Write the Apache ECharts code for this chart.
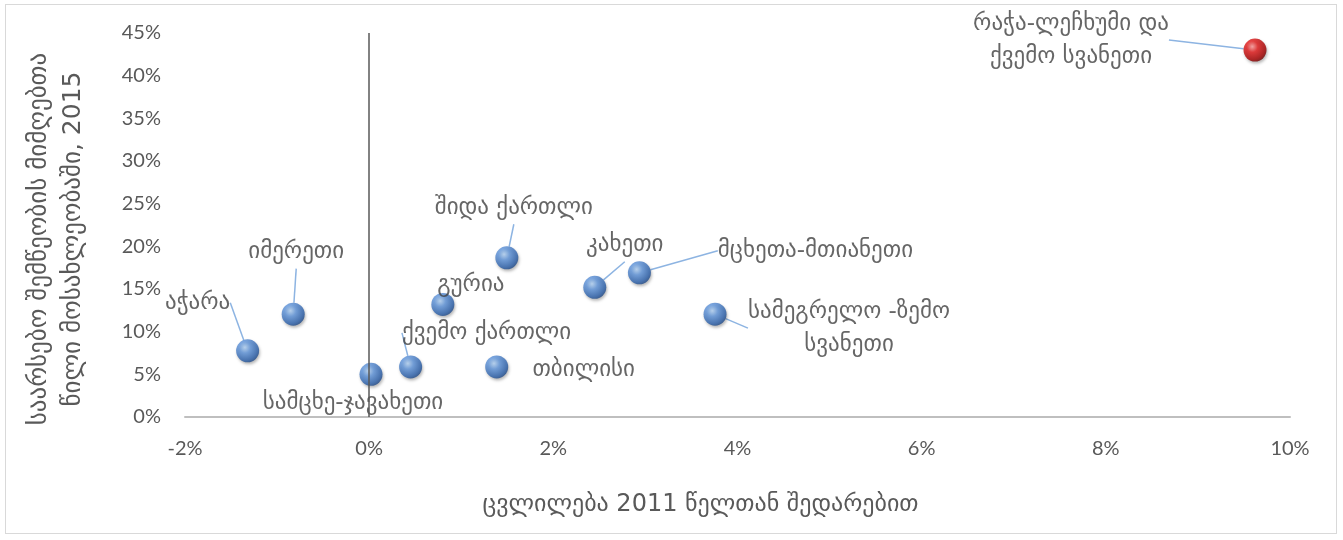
<!DOCTYPE html>
<html>
<head>
<meta charset="utf-8">
<script src="https://cdn.jsdelivr.net/npm/echarts@6/dist/echarts.min.js"></script>
<style>
  html, body { margin: 0; padding: 0; background: #ffffff; }
  #wrap { position: relative; width: 1343px; height: 540px; }
  #frame { position: absolute; left: 5px; top: 4px; width: 1332px; height: 530px; border: 1px solid #d9d9d9; box-sizing: border-box; }
  #chart { position: absolute; left: 0; top: 0; width: 1343px; height: 540px; }
</style>
</head>
<body>
<div id="wrap">
  <div id="frame"></div>
  <div id="chart"></div>
</div>
<script>
// ---- data ----
const regions = [
  'აჭარა',
  'იმერეთი',
  'სამცხე-ჯავახეთი',
  'ქვემო ქართლი',
  'გურია',
  'თბილისი',
  'შიდა ქართლი',
  'კახეთი',
  'მცხეთა-მთიანეთი',
  'სამეგრელო -ზემო\nსვანეთი',
  'რაჭა-ლეჩხუმი და\nქვემო სვანეთი'
];
// change compared with 2011 (%)
const changeVs2011 = [-1.32, -0.825, 0.02, 0.45, 0.80, 1.385, 1.495, 2.45, 2.935, 3.756, 9.62];
// share of subsistence allowance recipients in population, 2015 (%)
const share2015 = [7.75, 12.05, 5.0, 5.87, 13.19, 5.87, 18.66, 15.2, 16.9, 12.05, 43.0];
const highlighted = ['რაჭა-ლეჩხუმი და\nქვემო სვანეთი'];

const xTicks = { min: -2, max: 10, step: 2 };
const yTicks = { min: 0, max: 45, step: 5 };

const xTitle = 'ცვლილება 2011 წელთან შედარებით';
const yTitle = 'საარსებო შემწეობის მიმღებთა\nწილი მოსახლეობაში, 2015';

// ---- label placement (styling, not data) ----
const labelOffsets = [
  [-50, -48], [3, -62], [-18, 29], [76, -34], [28, -19], [87, 3],
  [7, -50], [30, -42], [176, -22], [134, 14], [-184, -10]
];
const showLeader = [true, true, false, true, false, false, true, true, true, true, true];

const blueBall = {
  type: 'radial', x: 0.38, y: 0.35, r: 0.7,
  colorStops: [
    { offset: 0, color: '#b5d5f7' },
    { offset: 0.35, color: '#5f95dc' },
    { offset: 0.8, color: '#2d62ad' },
    { offset: 1, color: '#1d4683' }
  ]
};
const redBall = {
  type: 'radial', x: 0.38, y: 0.35, r: 0.7,
  colorStops: [
    { offset: 0, color: '#ff9a9a' },
    { offset: 0.35, color: '#e41a1a' },
    { offset: 0.8, color: '#a80000' },
    { offset: 1, color: '#6e0000' }
  ]
};

const seriesData = regions.map((name, i) => ({
  name: name,
  value: [changeVs2011[i], share2015[i]],
  itemStyle: { color: highlighted.includes(name) ? redBall : blueBall },
  labelLine: { show: showLeader[i] }
}));

const GEO_FONT = '"DejaVu Sans", "Noto Sans", sans-serif';
const NUM_FONT = 'Lato, "Open Sans", sans-serif';

const chart = echarts.init(document.getElementById('chart'), null, { renderer: 'canvas' });
chart.setOption({
  animation: false,
  backgroundColor: 'transparent',
  grid: { left: 185, right: 53, top: 33, bottom: 123, containLabel: false },
  xAxis: {
    type: 'value',
    min: xTicks.min, max: xTicks.max, interval: xTicks.step,
    name: xTitle,
    nameLocation: 'middle',
    nameGap: 76,
    nameTextStyle: { fontFamily: GEO_FONT, fontSize: 24, color: '#595959', padding: [0, 74, 0, 0] },
    axisLine: { onZero: false, lineStyle: { color: '#bfbfbf', width: 2 } },
    axisTick: { show: false },
    splitLine: { show: false },
    axisLabel: { formatter: '{value}%', fontFamily: NUM_FONT, fontSize: 20, color: '#595959', margin: 22 }
  },
  yAxis: {
    type: 'value',
    min: yTicks.min, max: yTicks.max, interval: yTicks.step,
    name: yTitle,
    nameLocation: 'middle',
    nameRotate: 90,
    nameGap: 95,
    nameTextStyle: { fontFamily: GEO_FONT, fontSize: 25, color: '#595959', lineHeight: 34, align: 'center', padding: [0, 28, 0, 0] },
    axisLine: { show: false },
    axisTick: { show: false },
    splitLine: { show: false },
    axisLabel: { formatter: '{value}%', fontFamily: NUM_FONT, fontSize: 20, color: '#595959', margin: 24 }
  },
  series: [{
    type: 'scatter',
    symbol: 'circle',
    symbolSize: 23,
    data: seriesData,
    itemStyle: {
      shadowColor: 'rgba(0,0,0,0.35)', shadowBlur: 3, shadowOffsetX: 1, shadowOffsetY: 2
    },
    label: {
      show: true,
      position: 'inside',
      formatter: p => p.name,
      fontFamily: GEO_FONT,
      fontSize: 23,
      color: '#404040',
      lineHeight: 33,
      align: 'center'
    },
    labelLine: { show: true, lineStyle: { color: '#8db4e2', width: 1.5 } },
    labelLayout: function (params) {
      const o = labelOffsets[params.dataIndex];
      return { dx: o[0], dy: o[1] };
    },
    emphasis: { disabled: true },
    markLine: {
      silent: true,
      symbol: 'none',
      label: { show: false },
      lineStyle: { color: '#595959', width: 1.5, type: 'solid' },
      data: [{ xAxis: 0 }]
    },
    z: 3
  }]
});
</script>
</body>
</html>
